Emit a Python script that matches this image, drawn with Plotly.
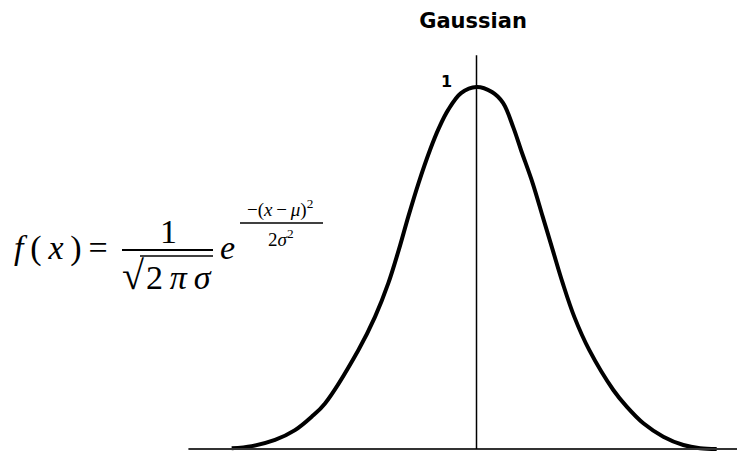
import plotly.graph_objects as go

# curve (x in units of sigma, y normalised to the peak)
curve_x = [-3.654, -3.355, -3.007, -2.709, -2.460, -2.261, -1.764, -1.515, -1.316,
           -1.160, -1.018, -0.866, -0.694, -0.560, -0.425, -0.231, 0.0, 0.231, 0.396,
           0.552, 0.664, 0.839, 0.988, 1.137, 1.287, 1.460, 1.684, 2.042,
           2.242, 2.490, 2.788, 3.087, 3.336, 3.585]
curve_y = [0.002, 0.008, 0.025, 0.052, 0.089, 0.126, 0.273, 0.365, 0.458,
           0.550, 0.642, 0.734, 0.826, 0.887, 0.936, 0.983, 1.0, 0.986, 0.956,
           0.887, 0.826, 0.734, 0.642, 0.550, 0.458, 0.365, 0.273, 0.163,
           0.117, 0.071, 0.034, 0.011, 0.002, 0.0]

peak_label = "1"
axis_left = -4.3
axis_right = 4.1
center_top = 1.088

# page body has an 8px margin, so the figure is a bit smaller than the window
OFF = 8
W, H = 745 - OFF, 452 - OFF


def px(x):
    return (x - OFF) / W


def py(y):
    return 1 - (y - OFF) / H


fig = go.Figure()
fig.add_trace(go.Scatter(x=curve_x, y=curve_y, mode='lines',
                         line=dict(color='black', width=4, shape='spline', smoothing=1.0),
                         hoverinfo='skip'))

# baseline and centre line
fig.add_shape(type='line', x0=axis_left, x1=axis_right, y0=0, y1=0,
              line=dict(color='#333333', width=2))
fig.add_shape(type='line', x0=0, x1=0, y0=0, y1=center_top,
              line=dict(color='black', width=1.5))

fig.add_annotation(x=px(447), y=py(81), xref='paper', yref='paper',
                   text="<b>%s</b>" % peak_label, showarrow=False,
                   xanchor='center', yanchor='middle',
                   font=dict(family='DejaVu Sans', size=16, color='black'))

serif = 'Liberation Serif'
big = 34
small = 19
sp = '\u2009'


def txt(s, x, y, size, xanchor='center'):
    fig.add_annotation(x=px(x), y=py(y), xref='paper', yref='paper', text=s,
                       showarrow=False, xanchor=xanchor, yanchor='middle',
                       font=dict(family=serif, size=size, color='black'))


txt("<i>f</i>" + sp + "(" + sp + "<i>x</i>" + sp + ")" + sp + "=", 12, 248, big, 'left')
txt("1", 168, 232, big)
txt("√", 133, 275, 40)
txt("2" + sp + "<i>π</i>" + sp + "<i>σ</i>", 179, 277, big)
txt("<i>e</i>", 228, 247, big)
txt("−(<i>x</i>" + sp + "−" + sp + "<i>μ</i>)<sup>2</sup>", 280, 209, small)
txt("2<i>σ</i><sup>2</sup>", 281, 238, small)

# fraction bars and the top of the radical
fig.add_shape(type='line', xref='paper', yref='paper', x0=px(122), x1=px(213),
              y0=py(250), y1=py(250), line=dict(color='black', width=2))
fig.add_shape(type='line', xref='paper', yref='paper', x0=px(140), x1=px(213),
              y0=py(256), y1=py(256), line=dict(color='black', width=1.5))
fig.add_shape(type='line', xref='paper', yref='paper', x0=px(240), x1=px(323),
              y0=py(223), y1=py(223), line=dict(color='black', width=1.5))

fig.update_layout(
    title=dict(text="<b>Gaussian</b>", x=px(473), y=py(21), xanchor='center', yanchor='middle',
               font=dict(family='DejaVu Sans', size=21, color='black')),
    width=W, height=H,
    margin=dict(l=0, r=0, t=0, b=0),
    paper_bgcolor='white', plot_bgcolor='white',
    showlegend=False,
    xaxis=dict(range=[(OFF - 476.5) / 67, (745 - 476.5) / 67], visible=False, fixedrange=True),
    yaxis=dict(range=[(449 - 452) / 362, (449 - OFF) / 362], visible=False, fixedrange=True),
)

fig.write_html("out.html")
